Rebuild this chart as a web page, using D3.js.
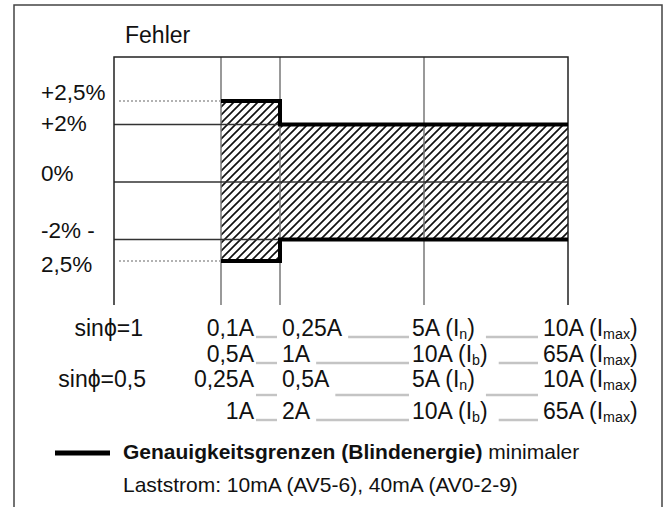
<!DOCTYPE html>
<html>
<head>
<meta charset="utf-8">
<script src="https://cdn.jsdelivr.net/npm/d3@7/dist/d3.min.js"></script>
<style>
  body { margin: 0; background: #fff; }
  text { font-family: "Liberation Sans", Arial, Helvetica, sans-serif; fill: #111; }
</style>
</head>
<body>
<svg id="mainsvg" width="667" height="507"></svg>
<script>
// ---- data ----
// error axis is schematic (not to scale), so breaks are mapped piecewise
const errorBreaks = [-4, -2.5, -2, 0, 2, 2.5, 4]
const gridErrors = [2, 0, -2]
const limitErrors = [2.5, -2.5]
// current column boundaries (index 0 = plot left edge)
const columnIdx = [0, 1, 2, 3, 4]
const innerColumns = [1, 2, 3]
// accuracy band: [fromCol, toCol, upper %, lower %]
const bandSteps = [
  [1, 2, 2.5, -2.5],
  [2, 4, 2, -2]
]
const yTickLabels = ["+2,5%", "+2%", "0%", "-2% -", "2,5%"]
const yTickValues = [2.5, 2, 0, -2, -2.5]

const rowHeads = ["sin\u03d5=1", "", "sin\u03d5=0,5", ""]
const col1 = ["0,1A", "0,5A", "0,25A", "1A"]
const col2 = ["0,25A", "1A", "0,5A", "2A"]
const col3 = [["5A (I", "n", ")"], ["10A (I", "b", ")"], ["5A (I", "n", ")"], ["10A (I", "b", ")"]]
const col4 = [["10A (I", "max", ")"], ["65A (I", "max", ")"], ["10A (I", "max", ")"], ["65A (I", "max", ")"]]

const legendBold = "Genauigkeitsgrenzen (Blindenergie)"
const legendRest = " minimaler"
const legendLine2 = "Laststrom: 10mA (AV5-6), 40mA (AV0-2-9)"

// ---- layout ----
const svg = d3.select("#mainsvg")
const plot = {left: 114, right: 568, top: 57, bottom: 305}

const y = d3.scaleLinear()
  .domain(errorBreaks)
  .range([305, 261, 239.5, 182, 124.5, 101, 57])
const x = d3.scaleLinear()
  .domain(columnIdx)
  .range([plot.left, 221, 280, 424, plot.right])

// hatch pattern
const defs = svg.append("defs")
defs.append("pattern")
  .attr("id", "hatch")
  .attr("patternUnits", "userSpaceOnUse")
  .attr("width", 8).attr("height", 8)
  .append("path")
  .attr("d", "M-2,2 L2,-2 M0,8 L8,0 M6,10 L10,6")
  .attr("stroke", "#111")
  .attr("stroke-width", 1.7)

// outer frame (open at the bottom)
svg.append("path")
  .attr("d", "M14,507 V5 H662 V507")
  .attr("fill", "none")
  .attr("stroke", "#444")
  .attr("stroke-width", 1.5)

svg.append("text")
  .attr("x", 125).attr("y", 43)
  .attr("font-size", 23)
  .text("Fehler")

// hatched band
bandSteps.forEach(s => {
  svg.append("rect")
    .attr("x", x(s[0]))
    .attr("y", y(s[2]))
    .attr("width", x(s[1]) - x(s[0]))
    .attr("height", y(s[3]) - y(s[2]))
    .attr("fill", "url(#hatch)")
})

// vertical grid
svg.selectAll(".vgrid")
  .data(innerColumns)
  .join("line")
  .attr("x1", d => x(d)).attr("x2", d => x(d))
  .attr("y1", plot.top).attr("y2", plot.bottom)
  .attr("stroke", "#777")
  .attr("stroke-width", 1.5)

// horizontal grid
svg.selectAll(".hgrid")
  .data(gridErrors)
  .join("line")
  .attr("x1", plot.left).attr("x2", plot.right)
  .attr("y1", d => y(d)).attr("y2", d => y(d))
  .attr("stroke", "#333")
  .attr("stroke-width", 1.3)

// dotted +-2,5% reference
svg.selectAll(".limit")
  .data(limitErrors)
  .join("line")
  .attr("x1", plot.left + 5).attr("x2", x(1))
  .attr("y1", d => y(d)).attr("y2", d => y(d))
  .attr("stroke", "#999")
  .attr("stroke-width", 1.5)
  .attr("stroke-dasharray", "2,2")

// plot border: top, left, right
svg.append("path")
  .attr("d", `M${plot.left},${plot.bottom} V${plot.top} H${plot.right} V${plot.bottom}`)
  .attr("fill", "none")
  .attr("stroke", "#222")
  .attr("stroke-width", 1.5)

// thick accuracy limit lines
const limPath = (sign) => {
  let pts = []
  bandSteps.forEach(s => {
    let v = sign > 0 ? s[2] : s[3]
    pts.push([x(s[0]), y(v)], [x(s[1]), y(v)])
  })
  return d3.line()(pts)
}
;[1, -1].forEach(sg => {
  svg.append("path")
    .attr("d", limPath(sg))
    .attr("fill", "none")
    .attr("stroke", "#000")
    .attr("stroke-width", 4)
})

// y labels
const yLabelDy = [-1, 6, -1, -2, 11]
svg.selectAll(".ylab")
  .data(yTickLabels)
  .join("text")
  .attr("x", 41)
  .attr("y", (d, i) => y(yTickValues[i]) + yLabelDy[i])
  .attr("font-size", 22.5)
  .text(d => d)

// current table below plot
const rowBase = [336, 362, 387, 419]
const fs = 23
const g = svg.append("g").attr("font-size", fs)

function subText(sel, parts) {
  sel.append("tspan").text(parts[0])
  sel.append("tspan").attr("font-size", fs * 0.62).attr("dy", 3).text(parts[1])
  sel.append("tspan").attr("dy", -3).text(parts[2])
}

function fill(x1, x2, yy) {
  g.append("line")
    .attr("x1", x1).attr("x2", x2)
    .attr("y1", yy).attr("y2", yy)
    .attr("stroke", "#c4c4c4")
    .attr("stroke-width", 2.4)
}

rowBase.forEach((by, i) => {
  const low = i === 2 ? 8 : 1
  if (rowHeads[i]) {
    g.append("text").attr("x", i === 0 ? 143 : 146).attr("y", by)
      .attr("text-anchor", "end").text(rowHeads[i])
  }
  g.append("text").attr("x", 254).attr("y", by)
    .attr("text-anchor", "end").text(col1[i])
  fill(256, 277, by + low)
  const t2 = g.append("text").attr("x", 282).attr("y", by).text(col2[i])
  const e2 = 282 + t2.node().getComputedTextLength()
  fill(e2 + 6, 409, by + low)
  const t3 = g.append("text").attr("x", 412).attr("y", by)
  subText(t3, col3[i])
  const e3 = 412 + t3.node().getComputedTextLength()
  fill(e3 + 11, 538, by + low)
  const t4 = g.append("text").attr("x", 543).attr("y", by)
  subText(t4, col4[i])
})

// legend
svg.append("line")
  .attr("x1", 55).attr("x2", 110)
  .attr("y1", 453).attr("y2", 453)
  .attr("stroke", "#000").attr("stroke-width", 5)
const lt = svg.append("text").attr("x", 123).attr("y", 459).attr("font-size", 21)
lt.append("tspan").attr("font-weight", "bold").text(legendBold)
lt.append("tspan").text(legendRest)
svg.append("text").attr("x", 123).attr("y", 492).attr("font-size", 21)
  .text(legendLine2)
</script>
</body>
</html>
